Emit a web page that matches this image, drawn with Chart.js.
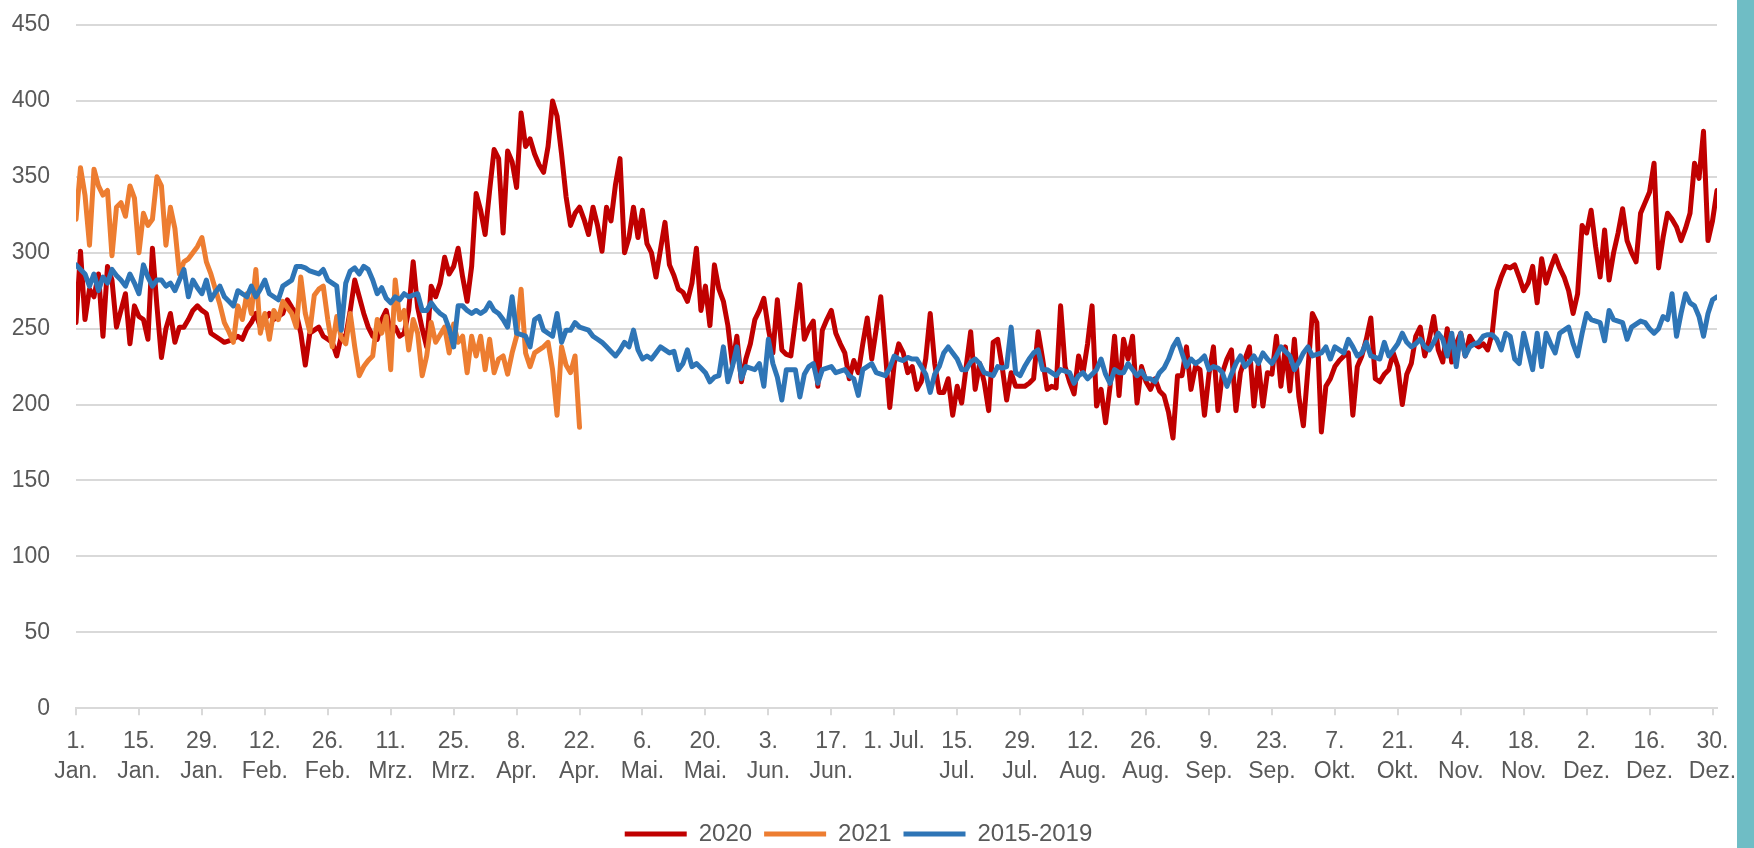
<!DOCTYPE html>
<html>
<head>
<meta charset="utf-8">
<script src="https://cdn.jsdelivr.net/npm/chart.js@4.4.1/dist/chart.umd.min.js"></script>
<style>
  html, body { margin: 0; padding: 0; background: #fff; }
  #wrap { position: relative; width: 1754px; height: 848px; overflow: hidden; }
  #deathsChart { position: absolute; left: 0; top: 0; }
  #sideBar { position: absolute; left: 1737px; top: 0; width: 17px; height: 848px; background: #6fbdc5; }
</style>
</head>
<body>
<div id="wrap">
  <canvas id="deathsChart" width="1754" height="856"></canvas>
  <div id="sideBar"></div>
</div>
<script>
// day of year (0 = 1 Jan) where a tick label sits
const tickDays = [0, 14, 28, 42, 56, 70, 84, 98, 112, 126, 140, 154, 168, 182,
                  196, 210, 224, 238, 252, 266, 280, 294, 308, 322, 336, 350, 364];
const tickLabels = [
  ['1.', 'Jan.'], ['15.', 'Jan.'], ['29.', 'Jan.'], ['12.', 'Feb.'], ['26.', 'Feb.'],
  ['11.', 'Mrz.'], ['25.', 'Mrz.'], ['8.', 'Apr.'], ['22.', 'Apr.'], ['6.', 'Mai.'],
  ['20.', 'Mai.'], ['3.', 'Jun.'], ['17.', 'Jun.'], ['1. Jul.'], ['15.', 'Jul.'],
  ['29.', 'Jul.'], ['12.', 'Aug.'], ['26.', 'Aug.'], ['9.', 'Sep.'], ['23.', 'Sep.'],
  ['7.', 'Okt.'], ['21.', 'Okt.'], ['4.', 'Nov.'], ['18.', 'Nov.'], ['2.', 'Dez.'],
  ['16.', 'Dez.'], ['30.', 'Dez.']
];

// daily values, one per day from 1 Jan
const deaths2020 = [
  254, 301, 256, 276, 271, 286, 245, 291, 282, 251,
  262, 273, 240, 265, 258, 256, 243, 303, 265, 231,
  250, 260, 241, 251, 251, 256, 262, 265, 262, 260,
  247, 245, 243, 241, 242, 243, 245, 243, 250, 254,
  260, 251, 256, 260, 256, 258, 260, 269, 264, 260,
  247, 226, 247, 249, 251, 245, 243, 241, 232, 245,
  245, 262, 282, 271, 260, 251, 245, 243, 256, 262,
  247, 251, 245, 247, 262, 294, 264, 250, 238, 278,
  271, 280, 297, 286, 291, 303, 284, 268, 291, 339,
  328, 312, 341, 368, 362, 313, 367, 360, 343, 392,
  370, 375, 365, 358, 353, 370, 400, 390, 365, 337,
  318, 326, 330, 322, 312, 330, 318, 301, 330, 321,
  345, 362, 300, 310, 330, 310, 328, 306, 300, 284,
  302, 320, 292, 285, 276, 274, 268, 280, 303, 262,
  278, 252, 292, 276, 268, 252, 226, 245, 215, 230,
  240, 256, 262, 270, 250, 234, 269, 236, 233, 232,
  255, 279, 243, 250, 255, 212, 249, 256, 262, 247,
  240, 234, 217, 229, 221, 240, 257, 230, 250, 271,
  235, 198, 227, 240, 234, 221, 225, 210, 215, 230,
  260, 227, 208, 208, 217, 193, 212, 201, 225, 248,
  210, 227, 215, 196, 241, 243, 225, 203, 221, 212,
  212, 212, 214, 217, 248, 230, 210, 212, 211, 265,
  225, 215, 207, 232, 221, 240, 265, 199, 210, 188,
  212, 245, 206, 243, 230, 245, 201, 225, 215, 210,
  217, 209, 206, 195, 178, 219, 219, 238, 210, 225,
  223, 193, 220, 238, 196, 221, 230, 236, 196, 221,
  230, 238, 199, 227, 199, 221, 220, 245, 212, 238,
  209, 243, 205, 186, 223, 260, 254, 182, 212, 217,
  225, 229, 232, 234, 193, 225, 232, 243, 257, 217,
  215, 220, 223, 234, 225, 200, 220, 227, 245, 251,
  232, 243, 258, 236, 228, 250, 228, 240, 247, 232,
  245, 240, 238, 240, 236, 247, 275, 284, 291, 290,
  292, 284, 275, 280, 291, 267, 296, 280, 290, 298,
  290, 284, 275, 260, 273, 318, 313, 328, 304, 284,
  315, 282, 300, 313, 329, 308, 300, 294, 326, 333,
  340, 359, 290, 310, 326, 322, 317, 308, 316, 326,
  359, 349, 380, 308, 321, 341
];

const deaths2021 = [
  322, 356, 338, 305, 355, 344, 338, 341, 298, 330,
  333, 324, 344, 336, 300, 326, 318, 322, 350, 344,
  305, 330, 316, 286, 294, 296, 300, 304, 310, 294,
  286, 276, 266, 254, 248, 241, 265, 256, 273, 260,
  289, 247, 260, 243, 262, 256, 268, 264, 260, 251,
  284, 260, 248, 272, 276, 278, 256, 238, 258, 244,
  240, 260, 238, 219, 225, 229, 232, 256, 247, 258,
  223, 282, 256, 262, 236, 256, 247, 219, 232, 254,
  241, 246, 251, 234, 253, 241, 245, 221, 245, 232,
  245, 223, 243, 221, 230, 232, 220, 234, 245, 276,
  234, 225, 234, 236, 238, 241, 223, 193, 238, 226,
  221, 232, 185
];

const deathsAvg = [
  292, 289, 286, 278, 286, 275, 284, 280, 289, 285,
  282, 278, 286, 280, 273, 292, 284, 278, 282, 282,
  278, 280, 275, 282, 289, 271, 282, 277, 273, 282,
  269, 274, 278, 271, 268, 265, 275, 273, 271, 278,
  271, 276, 282, 273, 271, 269, 278, 280, 282, 291,
  291, 290, 288, 287, 286, 289, 282, 280, 278, 249,
  280, 288, 290, 286, 291, 289, 282, 273, 277, 270,
  267, 271, 269, 273, 271, 272, 273, 262, 262, 267,
  263, 260, 258, 250, 238, 265, 265, 262, 260, 262,
  260, 262, 267, 262, 260, 256, 251, 271, 247, 246,
  245, 238, 256, 258, 249, 247, 245, 260, 241, 249,
  249, 254, 251, 250, 249, 245, 243, 241, 238, 235,
  232, 236, 241, 238, 249, 236, 230, 232, 230, 234,
  238, 236, 234, 235, 223, 227, 236, 225, 227, 224,
  221, 215, 218, 219, 238, 215, 225, 238, 217, 225,
  224, 223, 227, 212, 243, 227, 218, 203, 223, 223,
  223, 205, 220, 225, 227, 214, 223, 224, 225, 221,
  222, 223, 219, 217, 206, 223, 225, 227, 221, 220,
  219, 224, 232, 230, 229, 231, 230, 230, 225, 220,
  208, 220, 225, 234, 238, 234, 230, 223, 223, 228,
  230, 227, 221, 220, 219, 225, 224, 225, 251, 221,
  219, 225, 230, 234, 236, 223, 223, 221, 219, 223,
  222, 221, 214, 219, 221, 217, 220, 223, 230, 220,
  214, 223, 221, 221, 227, 223, 219, 222, 217, 217,
  215, 221, 224, 230, 238, 243, 234, 225, 230, 227,
  229, 232, 223, 225, 224, 221, 212, 220, 227, 232,
  225, 228, 232, 227, 234, 230, 227, 232, 238, 235,
  232, 223, 228, 234, 238, 232, 233, 234, 238, 230,
  238, 236, 234, 243, 238, 232, 234, 241, 232, 231,
  230, 241, 232, 236, 240, 247, 241, 238, 240, 243,
  238, 236, 241, 247, 243, 232, 247, 225, 247, 232,
  238, 240, 241, 245, 246, 246, 243, 236, 247, 245,
  230, 227, 247, 235, 223, 247, 225, 247, 240, 234,
  247, 249, 251, 240, 232, 247, 260, 256, 255, 254,
  242, 262, 256, 255, 254, 243, 251, 253, 255, 254,
  250, 247, 250, 258, 256, 273, 245, 260, 273, 267,
  265, 258, 245, 260, 269, 271
];

const FONT = "'Liberation Sans Narrow', 'Liberation Sans', Arial, sans-serif";
const TEXT = '#595959';
const GRID = '#d9d9d9';

// turn a daily list into {x: day, y: value}
function toPoints(values) {
    return values.map((v, i) => ({ x: i, y: v }));
}

function series(label, values, color, order) {
    return {
        label: label,
        data: toPoints(values),
        borderColor: color,
        backgroundColor: color,
        borderWidth: 5,
        order: order
    };
}

const ctx = document.getElementById('deathsChart').getContext('2d');
new Chart(ctx, {
    type: 'line',
    data: {
        datasets: [
            series('2020', deaths2020, '#c00000', 3),
            series('2021', deaths2021, '#ed7d31', 2),
            series('2015-2019', deathsAvg, '#2e75b6', 1)
        ]
    },
    options: {
        responsive: false,
        animation: false,
        devicePixelRatio: 1,
        layout: { padding: { top: 25, right: 37, left: 0, bottom: 0 } },
        elements: {
            point: { radius: 0 },
            line: { tension: 0, fill: false, borderJoinStyle: 'round', borderCapStyle: 'round' }
        },
        scales: {
            x: {
                type: 'linear',
                min: 0,
                max: 365,
                afterBuildTicks: scale => { scale.ticks = tickDays.map(d => ({ value: d })); },
                afterFit: scale => { scale.height += 11; },
                ticks: {
                    autoSkip: false,
                    maxRotation: 0,
                    padding: 12,
                    color: TEXT,
                    font: { family: FONT, size: 23, lineHeight: 1.3 },
                    callback: (value, index) => tickLabels[index]
                },
                grid: { drawOnChartArea: false, tickLength: 7, color: GRID, lineWidth: 2 },
                border: { color: GRID, width: 2 }
            },
            y: {
                min: 0,
                max: 450,
                ticks: { stepSize: 50, padding: 26, color: TEXT, font: { family: FONT, size: 23 } },
                grid: { color: GRID, lineWidth: 2, drawTicks: false },
                border: { display: false },
                afterFit: scale => {
                    scale.width = 76;
                    // keep the label padding from pushing the plot down
                    scale.paddingTop = 0;
                    scale.paddingBottom = 0;
                }
            }
        },
        plugins: {
            legend: {
                position: 'bottom',
                labels: {
                    usePointStyle: true,
                    pointStyle: 'line',
                    pointStyleWidth: 62,
                    padding: 12,
                    color: TEXT,
                    font: { family: FONT, size: 24 },
                    sort: (a, b) => a.datasetIndex - b.datasetIndex
                }
            },
            tooltip: { enabled: false }
        }
    }
});
</script>
</body>
</html>
